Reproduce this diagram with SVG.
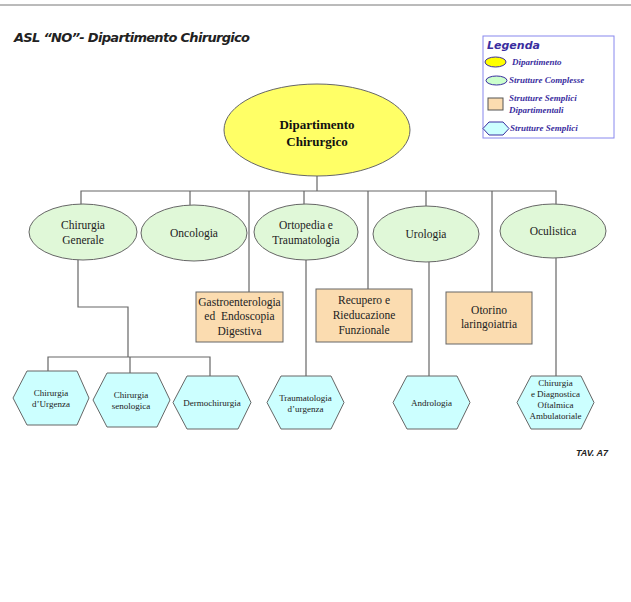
<svg xmlns="http://www.w3.org/2000/svg" width="631" height="602" viewBox="0 0 631 602">
<style>
.ln{stroke:#666;stroke-width:1.2;fill:none}
.main{fill:#ffff66;stroke:#666;stroke-width:1}
.sc{fill:#e0f8d8;stroke:#666;stroke-width:1}
.sd{fill:#fbdcb0;stroke:#666;stroke-width:1}
.ss{fill:#ccffff;stroke:#666;stroke-width:1}
text{font-family:'Liberation Serif',serif}
.t{font-size:11.5px;fill:#222;text-anchor:middle}
.tb{font-size:13px;font-weight:bold;fill:#111;text-anchor:middle}
.ts{font-size:9px;fill:#222;text-anchor:middle}
.lg{font-size:9px;fill:#3a2ea0;font-style:italic;font-weight:bold}
.ttl{font-family:'Comic Sans MS','DejaVu Sans',sans-serif;font-size:13px;font-style:italic;font-weight:bold;fill:#222}
.leg{font-family:'DejaVu Sans',sans-serif;font-size:11px;font-style:italic;font-weight:bold;fill:#3a2ea0}
.tav{font-family:'Liberation Sans',sans-serif;font-size:9px;font-style:italic;font-weight:bold;fill:#222;text-anchor:end}
</style>
<rect width="631" height="602" fill="#fff"/>
<line x1="0" y1="5" x2="631" y2="5" stroke="#777" stroke-width="1"/>
<text class="ttl" x="14" y="42" textLength="236">ASL “NO”- Dipartimento Chirurgico</text>

<g id="legenda">
<rect x="483" y="36" width="131" height="102" fill="#fff" stroke="#8888ee" stroke-width="1"/>
<text class="leg" x="487" y="49">Legenda</text>
<ellipse cx="495.5" cy="62" rx="10.5" ry="5" fill="#ffff00" stroke="#3a2ea0" stroke-width="1"/>
<text class="lg" x="512" y="65">Dipartimento</text>
<ellipse cx="496.5" cy="80.5" rx="10.5" ry="4.5" fill="#ccffcc" stroke="#3a2ea0" stroke-width="1"/>
<text class="lg" x="509" y="83">Strutture Complesse</text>
<rect x="488" y="98" width="15" height="12" fill="#fbdcb0" stroke="#555" stroke-width="1"/>
<text class="lg" x="509" y="101">Strutture Semplici</text>
<text class="lg" x="509" y="113">Dipartimentali</text>
<polygon points="483,128.5 489,122 503,122 509,128.5 503,135 489,135" fill="#ccffff" stroke="#3a2ea0" stroke-width="1"/>
<text class="lg" x="510" y="131">Strutture Semplici</text>
</g>

<g id="connectors">
<polyline class="ln" points="317,176 317,191"/>
<polyline class="ln" points="81,205 81,191 556,191 556,205"/>
<line class="ln" x1="190" y1="191" x2="190" y2="205"/>
<line class="ln" x1="249" y1="191" x2="249" y2="292"/>
<line class="ln" x1="304" y1="191" x2="304" y2="204"/>
<line class="ln" x1="368" y1="191" x2="368" y2="289"/>
<line class="ln" x1="426" y1="191" x2="426" y2="206"/>
<line class="ln" x1="492" y1="191" x2="492" y2="292"/>
<polyline class="ln" points="78,260 78,307 128,307 128,357"/>
<polyline class="ln" points="48,371 48,357 210,357 210,376"/>
<line class="ln" x1="130" y1="357" x2="130" y2="373"/>
<line class="ln" x1="306" y1="260" x2="306" y2="376"/>
<line class="ln" x1="429" y1="262" x2="429" y2="376"/>
<line class="ln" x1="556" y1="258" x2="556" y2="376"/>
</g>

<g id="dipartimento">
<ellipse class="main" cx="317" cy="130" rx="93" ry="46"/>
<text class="tb" x="317" y="129">Dipartimento</text>
<text class="tb" x="317" y="146">Chirurgico</text>
</g>

<g id="chirurgia-generale">
<ellipse class="sc" cx="83" cy="232" rx="54" ry="28"/>
<text class="t" x="83" y="229">Chirurgia</text>
<text class="t" x="83" y="244">Generale</text>
</g>
<g id="oncologia">
<ellipse class="sc" cx="194" cy="233" rx="53" ry="28"/>
<text class="t" x="194" y="237">Oncologia</text>
</g>
<g id="ortopedia">
<ellipse class="sc" cx="306" cy="232" rx="52" ry="28"/>
<text class="t" x="306" y="229">Ortopedia e</text>
<text class="t" x="306" y="244">Traumatologia</text>
</g>
<g id="urologia">
<ellipse class="sc" cx="426" cy="234" rx="53" ry="28"/>
<text class="t" x="426" y="238">Urologia</text>
</g>
<g id="oculistica">
<ellipse class="sc" cx="553" cy="231" rx="53" ry="27"/>
<text class="t" x="553" y="235">Oculistica</text>
</g>

<g id="gastroenterologia">
<rect class="sd" x="196" y="292" width="87" height="50"/>
<text class="t" x="239.5" y="306">Gastroenterologia</text>
<text class="t" x="239.5" y="320" xml:space="preserve">ed  Endoscopia</text>
<text class="t" x="239.5" y="335">Digestiva</text>
</g>
<g id="recupero">
<rect class="sd" x="316" y="289" width="96" height="53"/>
<text class="t" x="364" y="304">Recupero e</text>
<text class="t" x="364" y="319">Rieducazione</text>
<text class="t" x="364" y="334">Funzionale</text>
</g>
<g id="otorino">
<rect class="sd" x="446" y="292" width="86" height="52"/>
<text class="t" x="489" y="314">Otorino</text>
<text class="t" x="489" y="328">laringoiatria</text>
</g>

<g id="chirurgia-urgenza">
<polygon class="ss" points="13,398 27,371 77,371 89,398 77,425 27,425"/>
<text class="ts" x="51" y="396">Chirurgia</text>
<text class="ts" x="51" y="407">d’Urgenza</text>
</g>
<g id="chirurgia-senologica">
<polygon class="ss" points="93,400 107,373 157,373 170,400 157,427 107,427"/>
<text class="ts" x="131" y="398">Chirurgia</text>
<text class="ts" x="131" y="409">senologica</text>
</g>
<g id="dermochirurgia">
<polygon class="ss" points="173,402.5 187,376 238,376 251,402.5 238,429 187,429"/>
<text class="ts" x="212" y="406">Dermochirurgia</text>
</g>
<g id="traumatologia-urgenza">
<polygon class="ss" points="267,402.5 281,376 331,376 344,402.5 331,429 281,429"/>
<text class="ts" x="305.5" y="401">Traumatologia</text>
<text class="ts" x="305.5" y="412">d’urgenza</text>
</g>
<g id="andrologia">
<polygon class="ss" points="393,402.5 407,376 457,376 470,402.5 457,429 407,429"/>
<text class="ts" x="431.5" y="406">Andrologia</text>
</g>
<g id="chirurgia-oftalmica">
<polygon class="ss" points="517,402.5 531,376 581,376 594,402.5 581,429 531,429"/>
<text class="ts" x="555.5" y="386">Chirurgia</text>
<text class="ts" x="555.5" y="397">e Diagnostica</text>
<text class="ts" x="555.5" y="408">Oftalmica</text>
<text class="ts" x="555.5" y="419">Ambulatoriale</text>
</g>

<text class="tav" x="608" y="456">TAV. A7</text>
</svg>
